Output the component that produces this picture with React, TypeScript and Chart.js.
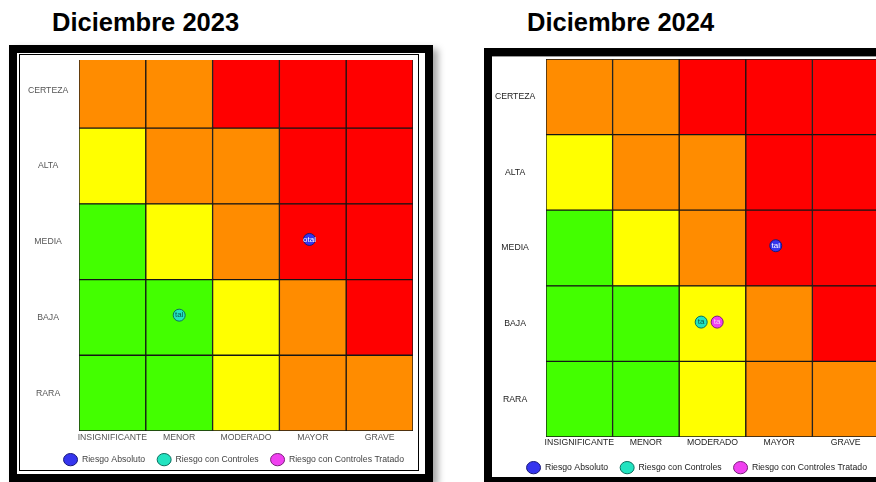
import React, { useEffect, useRef } from 'react';
import { Chart, registerables } from 'chart.js';

Chart.register(...registerables);

// ---------- data ----------
const impactLabels = ['INSIGNIFICANTE', 'MENOR', 'MODERADO', 'MAYOR', 'GRAVE'];
const probLabels = ['RARA', 'BAJA', 'MEDIA', 'ALTA', 'CERTEZA']; // bottom -> top
const cellValues = [1, 1, 1, 1, 1];

const levelRara = ['bajo', 'bajo', 'moderado', 'alto', 'alto'];
const levelBaja = ['bajo', 'bajo', 'moderado', 'alto', 'extremo'];
const levelMedia = ['bajo', 'moderado', 'alto', 'extremo', 'extremo'];
const levelAlta = ['moderado', 'alto', 'alto', 'extremo', 'extremo'];
const levelCerteza = ['alto', 'alto', 'extremo', 'extremo', 'extremo'];

const seriesNames = ['Riesgo Absoluto', 'Riesgo con Controles', 'Riesgo con Controles Tratado'];

// x: impact (1 = INSIGNIFICANTE ... 5 = GRAVE), y: probability (1 = RARA ... 5 = CERTEZA)
const absoluto2023 = [{ x: 3.95, y: 3.03 }];
const controles2023 = [{ x: 2, y: 2.03 }];
const tratado2023: { x: number; y: number }[] = [];
const absoluto2024 = [{ x: 3.95, y: 3.03 }];
const controles2024 = [{ x: 2.83, y: 2.02 }];
const tratado2024 = [{ x: 3.07, y: 2.02 }];

const pointText2023 = ['otal', 'tal', ''];
const pointText2024 = ['tal', 'ta', 'ta'];

const titles = ['Diciembre 2023', 'Diciembre 2024'];

// ---------- styles ----------
const levelColors: Record<string, string> = {
  bajo: '#43FF00',
  moderado: '#FFFF00',
  alto: '#FF8C00',
  extremo: '#FF0000',
};
const seriesFill = ['#3535EE', '#22E3C0', '#F040F0'];
const seriesBorder = ['#1A1A7A', '#0B6E5E', '#7A207A'];
const seriesTextColor = ['#FFFFFF', '#0A5A4A', '#F4D0F4'];
const FONT = '"Liberation Sans", Arial, Helvetica, sans-serif';

const pointTextPlugin = {
  id: 'pointText',
  afterDatasetsDraw(chart: any) {
    const ctx = chart.ctx;
    chart.data.datasets.forEach((ds: any, i: number) => {
      if (!ds.pointText) return;
      const meta = chart.getDatasetMeta(i);
      meta.data.forEach((el: any) => {
        ctx.save();
        ctx.font = `8px ${FONT}`;
        ctx.fillStyle = ds.pointTextColor;
        ctx.textAlign = 'center';
        ctx.textBaseline = 'middle';
        ctx.fillText(ds.pointText, el.x, el.y);
        ctx.restore();
      });
    });
  },
};

type PanelProps = {
  left: number;
  top: number;
  width: number;
  height: number;
  pad: { left: number; top: number; right: number; bottom: number };
  yWidth: number;
  xHeight: number;
  xPad: number;
  yMax: number;
  tickColor: string;
  legendColor: string;
  series: { x: number; y: number }[][];
  texts: string[];
};

function RiskMatrix(p: PanelProps) {
  const ref = useRef<HTMLCanvasElement>(null);
  useEffect(() => {
    const canvas = ref.current!;
    const rows = [levelRara, levelBaja, levelMedia, levelAlta, levelCerteza];
    const barSets = rows.map((lv, i) => ({
      type: 'bar',
      label: probLabels[i],
      data: cellValues,
      backgroundColor: lv.map((l) => levelColors[l]),
      borderColor: '#151515',
      borderWidth: 1,
      borderSkipped: false,
      barPercentage: 1,
      categoryPercentage: 1,
      grouped: false,
      clip: 0,
      xAxisID: 'x',
      yAxisID: 'y',
      order: 2,
    }));
    const pointSets = p.series.map((data, i) => ({
      type: 'scatter',
      label: seriesNames[i],
      data,
      backgroundColor: seriesFill[i],
      borderColor: seriesBorder[i],
      borderWidth: 1,
      pointRadius: 6,
      pointStyle: 'circle',
      xAxisID: 'xp',
      yAxisID: 'yp',
      order: 1,
      pointText: p.texts[i],
      pointTextColor: seriesTextColor[i],
    }));
    const tickFont = { family: FONT, size: 8.7 };
    const chart = new Chart(canvas, {
      type: 'bar',
      data: { labels: impactLabels, datasets: [...barSets, ...pointSets] as any },
      options: {
        responsive: false,
        animation: false,
        events: [],
        layout: { padding: p.pad },
        scales: {
          x: {
            type: 'category',
            stacked: true,
            offset: true,
            grid: { display: false, drawTicks: false },
            border: { display: false },
            ticks: { font: tickFont, color: p.tickColor, padding: p.xPad, maxRotation: 0, autoSkip: false },
            afterFit: (s: any) => {
              s.height = p.xHeight;
              s.paddingLeft = 0;
              s.paddingRight = 0;
            },
          },
          y: {
            type: 'linear',
            stacked: true,
            min: 0,
            max: p.yMax,
            grid: { display: false, drawTicks: false },
            border: { display: false },
            ticks: {
              font: tickFont,
              color: p.tickColor,
              padding: 10.7,
              crossAlign: 'center',
              callback: (v: any) => probLabels[Math.floor(Number(v))] ?? '',
            },
            afterBuildTicks: (s: any) => {
              s.ticks = probLabels.map((_, i) => ({ value: i + 0.5 }));
            },
            afterFit: (s: any) => {
              s.width = p.yWidth;
              s.paddingTop = 0;
              s.paddingBottom = 0;
            },
          },
          xp: { type: 'linear', display: false, offset: false, min: 0.5, max: 5.5 },
          yp: { type: 'linear', display: false, offset: false, min: 0.5, max: p.yMax + 0.5 },
        },
        plugins: {
          legend: {
            display: true,
            position: 'bottom',
            align: 'end',
            labels: {
              filter: (item: any) => item.datasetIndex >= 5,
              usePointStyle: true,
              pointStyleWidth: 14,
              padding: 12,
              color: p.legendColor,
              font: { family: FONT, size: 8.7 },
            },
          },
          tooltip: { enabled: false },
        },
      } as any,
      plugins: [pointTextPlugin],
    });
    return () => chart.destroy();
  }, []);
  return (
    <canvas
      ref={ref}
      width={p.width}
      height={p.height}
      style={{ position: 'absolute', left: p.left, top: p.top, width: p.width, height: p.height }}
    />
  );
}

export default function App() {
  const titleStyle: React.CSSProperties = {
    position: 'absolute',
    top: 10,
    fontFamily: FONT,
    fontWeight: 'bold',
    fontSize: 25.5,
    lineHeight: '25px',
    color: '#000',
    whiteSpace: 'nowrap',
  };
  return (
    <div
      style={{
        position: 'fixed',
        left: 0,
        top: 0,
        width: 876,
        height: 482,
        overflow: 'hidden',
        background: '#fff',
      }}
    >
      <div style={{ ...titleStyle, left: 52 }}>{titles[0]}</div>
      <div style={{ ...titleStyle, left: 527 }}>{titles[1]}</div>

      {/* left frame */}
      <div
        style={{
          position: 'absolute',
          left: 9,
          top: 45,
          width: 424,
          height: 437,
          boxSizing: 'border-box',
          border: '8px solid #000',
          background: '#fff',
          boxShadow: '5px 4px 7px rgba(0,0,0,0.35)',
        }}
      />
      <div
        style={{
          position: 'absolute',
          left: 19,
          top: 54,
          width: 400,
          height: 417,
          boxSizing: 'border-box',
          border: '1.5px solid #000',
        }}
      />
      {/* right frame */}
      <div
        style={{
          position: 'absolute',
          left: 484,
          top: 48,
          width: 430,
          height: 437,
          boxSizing: 'border-box',
          border: '8px solid #000',
          background: '#fff',
        }}
      />
      <div
        style={{
          position: 'absolute',
          left: 492,
          top: 56,
          width: 420,
          height: 1,
          background: '#999',
        }}
      />

      <RiskMatrix
        left={21}
        top={53}
        width={399}
        height={421}
        pad={{ left: 2, top: 0, right: 4, bottom: 0 }}
        yWidth={56}
        xHeight={12.3}
        xPad={1}
        yMax={4.9}
        tickColor="#555"
        legendColor="#444"
        series={[absoluto2023, controles2023, tratado2023]}
        texts={pointText2023}
      />
      <RiskMatrix
        left={492}
        top={52}
        width={400}
        height={430}
        pad={{ left: 1, top: 0, right: 13, bottom: 0 }}
        yWidth={53}
        xHeight={14.3}
        xPad={0}
        yMax={5}
        tickColor="#222"
        legendColor="#222"
        series={[absoluto2024, controles2024, tratado2024]}
        texts={pointText2024}
      />
    </div>
  );
}
